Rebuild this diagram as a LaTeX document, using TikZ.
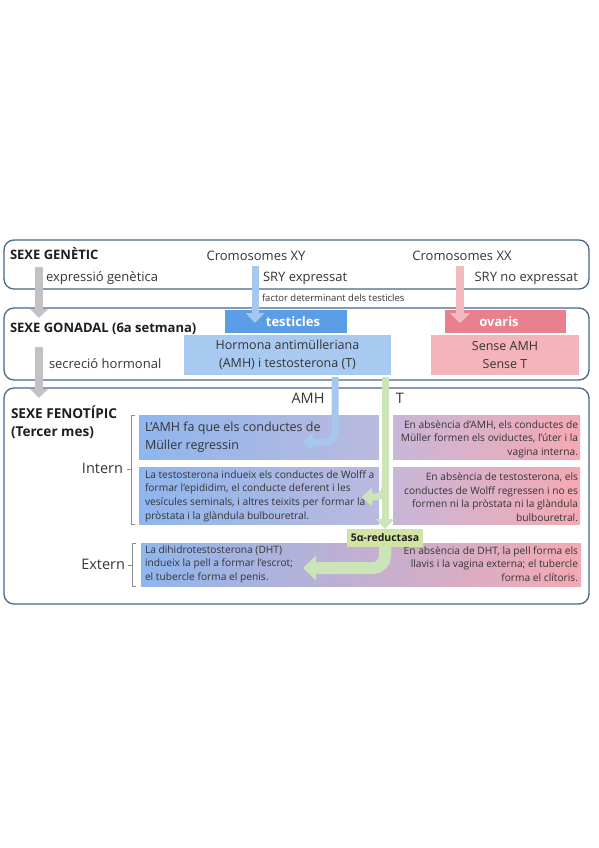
\documentclass[tikz,border=0pt]{standalone}
\usepackage{fontspec}
\setmainfont{Open Sans}
\usetikzlibrary{arrows.meta}
\definecolor{panelc}{HTML}{48678A}
\definecolor{txt}{HTML}{353535}
\definecolor{hdc}{HTML}{1E1E1E}
\definecolor{arrgray}{HTML}{C2C2C2}
\definecolor{arrblue}{HTML}{A6C8EF}
\definecolor{arrpink}{HTML}{F3BAC1}
\definecolor{arrgreen}{HTML}{CBE5B8}
\definecolor{testc}{HTML}{5C9EE6}
\definecolor{hormc}{HTML}{A8C9F0}
\definecolor{ovac}{HTML}{E9808D}
\definecolor{sensec}{HTML}{F4B4BB}
\definecolor{gblue}{HTML}{8EB6EE}
\definecolor{gmidL}{HTML}{BBB9DE}
\definecolor{gmid}{HTML}{C2B8DA}
\definecolor{gmidR}{HTML}{C8B6D8}
\definecolor{gpink}{HTML}{F5A9B3}
\definecolor{redc}{HTML}{D2E4A4}
\definecolor{bracec}{HTML}{8C8C8C}
\begin{document}
\begin{tikzpicture}[x=1pt,y=-1pt,
  every node/.style={inner sep=0pt,outer sep=0pt,text=txt},
  panel/.style={draw=panelc,line width=1.3pt,rounded corners=10pt,fill=white,anchor=north west,minimum width=585pt},
  hd/.style={font=\bfseries\fontsize{13}{19}\selectfont,text=hdc,align=left},
  lab/.style={font=\fontsize{13}{18}\selectfont},
  big/.style={font=\fontsize{14.5}{18}\selectfont},
  small/.style={font=\fontsize{10.2}{13.6}\selectfont},
  mid/.style={font=\fontsize{12.5}{18}\selectfont},
  shbox/.style={draw=none,anchor=north west},
  bracket/.style={draw=bracec,line width=0.8pt},
  grayarrow/.style={draw=arrgray,line width=8pt,-{Triangle[width=17pt,length=9pt]}},
  bluearrow/.style={draw=arrblue,line width=7pt,-{Triangle[width=18pt,length=10pt]}},
  pinkarrow/.style={draw=arrpink,line width=8pt,-{Triangle[width=20pt,length=10pt]}},
  greenarrow/.style={draw=arrgreen,line width=7pt,-{Triangle[width=18pt,length=10pt]}},
  greenthick/.style={draw=arrgreen,line width=12pt,-{Triangle[width=24pt,length=13pt]}}
]
\useasboundingbox[fill=white] (0,0) rectangle (599,848);

% panels
\node[panel,minimum height=49pt] (p1) at (4,240) {};
\node[panel,minimum height=72pt] (p2) at (4,308) {};
\node[panel,minimum height=216pt] (p3) at (4,388) {};

% panel 1 texts
\node[hd,anchor=base west] (sg) at (10,259) {SEXE GENÈTIC};
\node[lab,anchor=base] (cxy) at (256,260) {Cromosomes XY};
\node[lab,anchor=base] (cxx) at (462,260) {Cromosomes XX};
\node[lab,anchor=base west] (eg) at (46,281) {expressió genètica};
\node[lab,anchor=base west] (sry) at (263,281) {SRY expressat};
\node[lab,anchor=base east] (srn) at (578,281) {SRY no expressat};
\node[font=\fontsize{9.5}{11}\selectfont,anchor=base west] (fdt) at (262,301) {factor determinant dels testicles};

% panel 2
\node[hd,anchor=base west] (sgo) at (10,332) {SEXE GONADAL (6a setmana)};
\node[lab,anchor=base west] (sh) at (49,368) {secreció hormonal};
\node[fill=testc,minimum width=122pt,minimum height=23pt,font=\bfseries\fontsize{13}{15}\selectfont,text=white] (testicles) at (286,321.5) {\hspace*{14pt}testicles};
\node[fill=ovac,minimum width=121pt,minimum height=23pt,font=\bfseries\fontsize{13}{15}\selectfont,text=white] (ovaris) at (505,321.5) {ovaris\hspace*{12pt}};
\node[fill=hormc,minimum width=207pt,minimum height=40pt,align=center,mid] (hormona) at (287.5,355) {Hormona antimülleriana\\(AMH) i testosterona (T)};
\node[fill=sensec,minimum width=148pt,minimum height=40pt,align=center,mid] (sense) at (505,355) {Sense AMH\\Sense T};

% panel 3
\node[hd,font=\bfseries\fontsize{13.6}{17.5}\selectfont,anchor=base west] (sf) at (11,436) {SEXE FENOTÍPIC\\(Tercer mes)};
\node[big,anchor=base] (amh) at (308,403) {AMH};
\node[big,anchor=base] (tt) at (400,403) {T};
\node[big,anchor=base east] (intern) at (123,473) {Intern};
\node[big,anchor=base east] (extern) at (125,569) {Extern};

\node[shbox,left color=gblue,right color=gmidL,minimum width=240pt,minimum height=44pt] (b1) at (139,415) {};
\node[shbox,left color=gmidR,right color=gpink,minimum width=187pt,minimum height=44pt] (r1) at (393,415) {};
\node[shbox,left color=gblue,right color=gmidL,minimum width=240pt,minimum height=57pt] (b2) at (139,467) {};
\node[shbox,left color=gmidR,right color=gpink,minimum width=187pt,minimum height=57pt] (r2) at (393,467) {};
\node[shbox,left color=gblue,middle color=gmid,right color=gpink,minimum width=440pt,minimum height=43pt] (b3) at (141,543) {};

\node[mid,align=left,anchor=west] (t1) at (145,437) {L’AMH fa que els conductes de\\Müller regressin};
\node[small,align=right,anchor=east] (u1) at (578,439) {En absència d’AMH, els conductes de\\Müller formen els oviductes, l’úter i la\\vagina interna.};
\node[small,align=left,anchor=west] (t2) at (145,496) {La testosterona indueix els conductes de Wolff a\\formar l’epididim, el conducte deferent i les\\vesícules seminals, i altres teixits per formar la\\pròstata i la glàndula bulbouretral.};
\node[small,align=right,anchor=east] (u2) at (578,497) {En absència de testosterona, els\\conductes de Wolff regressen i no es\\formen ni la pròstata ni la glàndula\\bulbouretral.};
\node[small,align=left,anchor=west] (t3) at (145,564) {La dihidrotestosterona (DHT)\\indueix la pell a formar l’escrot;\\el tubercle forma el penis.};
\node[small,align=right,anchor=east] (u3) at (578,564) {En absència de DHT, la pell forma els\\llavis i la vagina externa; el tubercle\\forma el clítoris.};

% brackets
\draw[bracket] (135,415) -- (131,415) -- (131,524) -- (135,524);
\draw[bracket] (131,469) -- (127,469);
\draw[bracket] (136,543) -- (132,543) -- (132,586) -- (136,586);
\draw[bracket] (132,565) -- (128,565);

% arrows
\coordinate (g1s) at (39,267);
\coordinate (g1e) at (39,318);
\coordinate (g2s) at (39,347);
\coordinate (g2e) at (39,398);
\draw[grayarrow] (g1s) -- (g1e);
\draw[grayarrow] (g2s) -- (g2e);

\coordinate (srys) at (255,266);
\coordinate (srye) at (255,323);
\draw[bluearrow] (srys) -- (srye);
\coordinate (srns) at (460,266);
\coordinate (srne) at (460,323);
\draw[pinkarrow] (srns) -- (srne);

\coordinate (amhs) at (335,377);
\coordinate (amhe) at (303,442);
\draw[bluearrow,rounded corners=10pt] (amhs) -- (amhs |- amhe) -- (amhe);

\node[fill=redc,minimum width=76pt,minimum height=18pt,font=\bfseries\fontsize{10.5}{12}\selectfont,text=hdc] (red) at (385,538) {5α-reductasa};

\coordinate (ts) at (385,377);
\coordinate (tb) at (385,474);
\coordinate (te) at (362,497);
\draw[greenarrow] (ts) -- (ts |- red.north);
\draw[greenarrow,rounded corners=10pt] (tb) -- (tb |- te) -- (te);

\coordinate (xe) at (303,568);
\draw[greenthick,rounded corners=12pt] (red.south) -- (red.south |- xe) -- (xe);
\end{tikzpicture}
\end{document}
